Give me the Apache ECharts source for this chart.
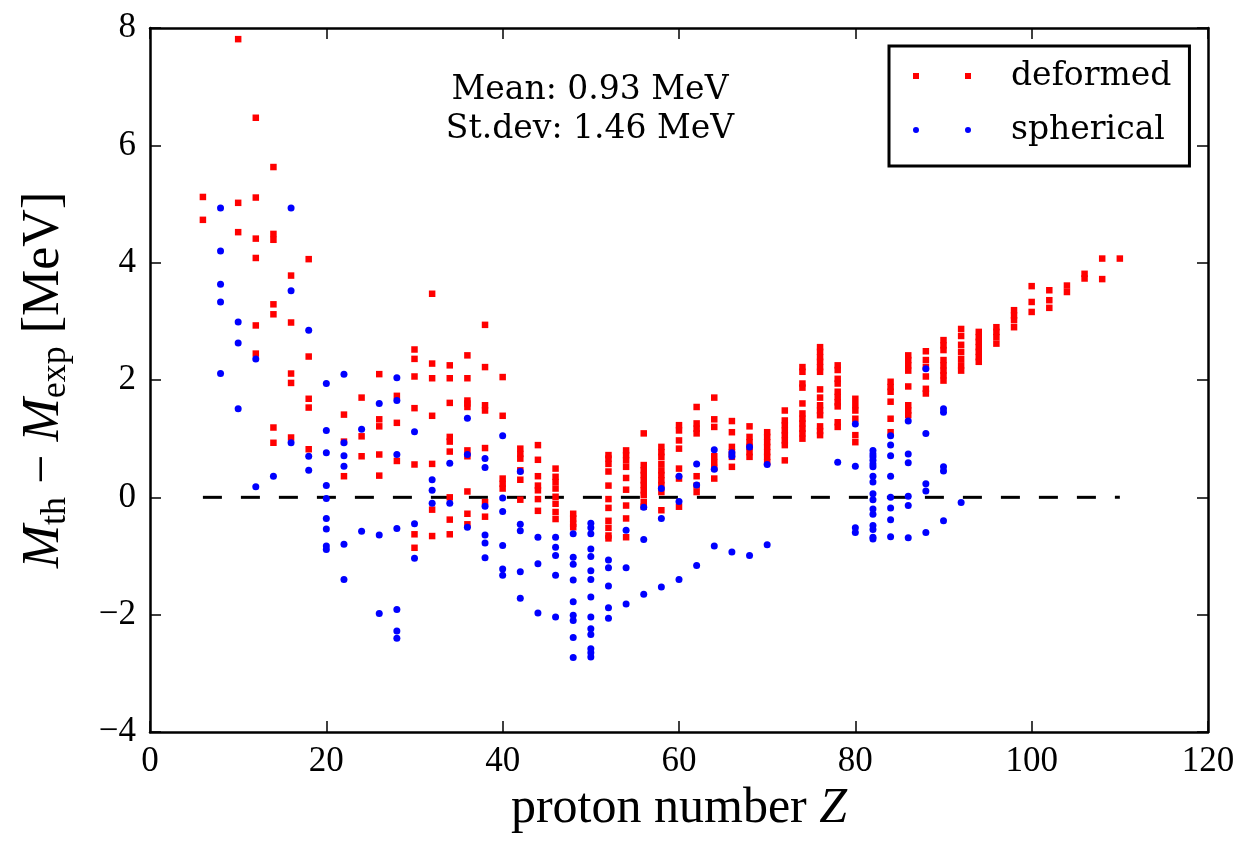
<!DOCTYPE html>
<html>
<head>
<meta charset="utf-8">
<script src="https://cdn.jsdelivr.net/npm/echarts@6/dist/echarts.min.js"></script>
<style>
  html, body { margin: 0; padding: 0; background: #fff; }
  #chart { width: 1241px; height: 842px; }
</style>
</head>
<body>
<div id="chart"></div>
<script>
// proton numbers and mass residuals (MeV), one list of values per Z
const deformedZ = [6, 10, 12, 14, 16, 18, 22, 24, 26, 28, 30, 32, 34, 36, 38, 40, 42, 44, 46, 48,
  52, 54, 56, 58, 60, 62, 64, 66, 68, 70, 72, 74, 76, 78, 80, 84, 86, 88, 90, 92,
  94, 96, 98, 100, 102, 104, 106, 108, 110]
const deformedVals = [
  [5.12, 4.73],
  [7.81, 5.02, 4.52],
  [6.47, 5.11, 4.41, 4.08, 2.93, 2.45],
  [5.63, 4.49, 4.39, 3.29, 3.12, 1.19, 0.93],
  [3.78, 2.98, 2.11, 1.95, 1.02],
  [4.06, 2.40, 1.68, 1.53, 0.82],
  [1.41, 0.95, 0.36],
  [1.70, 1.04, 0.70],
  [2.10, 1.33, 1.21, 0.73, 0.37],
  [1.73, 1.27, 0.62],
  [2.52, 2.36, 2.06, 1.52, 0.56, -0.63, -0.86],
  [3.47, 2.28, 2.03, 1.39, 0.57, -0.21, -0.66],
  [2.25, 2.03, 1.61, 1.03, 0.95, 0.78, 0.0, -0.38, -0.63],
  [2.42, 2.03, 1.65, 1.60, 1.54, 0.80, 0.70, 0.10, -0.28, -0.46],
  [2.94, 2.22, 1.57, 1.48, 0.84, -0.08, -0.33],
  [2.05, 1.39, 0.32, 0.23, 0.15],
  [0.83, 0.74, 0.66, 0.46, 0.30, -0.04],
  [0.89, 0.64, 0.36, 0.20, 0.12, -0.03, -0.23],
  [0.49, 0.35, 0.26, 0.15, 0.01, -0.11, -0.25, -0.37],
  [-0.28, -0.36, -0.45, -0.51],
  [0.72, 0.66, 0.57, 0.44, 0.20, -0.03, -0.18, -0.40, -0.52, -0.65, -0.70],
  [0.80, 0.72, 0.63, 0.52, 0.33, 0.13, -0.14, -0.36, -0.68],
  [1.09, 0.55, 0.46, 0.38, 0.29, 0.21, 0.12, 0.04, -0.08, -0.16],
  [0.86, 0.77, 0.69, 0.57, 0.46, 0.38, 0.29, 0.21, 0.09, -0.22],
  [1.23, 1.14, 0.97, 0.83, 0.49, 0.32, -0.16],
  [1.54, 1.26, 1.17, 1.09, 0.36, 0.20, 0.09],
  [1.70, 1.33, 1.20, 0.70, 0.60, 0.50, 0.32],
  [1.30, 1.11, 0.86, 0.77, 0.69, 0.52],
  [1.21, 1.03, 0.94, 0.86, 0.77, 0.69],
  [1.11, 1.03, 0.94, 0.86, 0.77, 0.69, 0.60],
  [1.48, 1.31, 1.23, 1.14, 1.06, 0.97, 0.89, 0.63],
  [2.22, 2.14, 1.94, 1.87, 1.60, 1.43, 1.34, 1.26, 1.17, 1.09, 1.00],
  [2.56, 2.48, 2.39, 2.31, 2.22, 2.14, 1.84, 1.70, 1.57, 1.48, 1.40, 1.21, 1.13, 1.06],
  [2.25, 2.17, 2.02, 1.94, 1.80, 1.71, 1.62, 1.55, 1.28, 1.20],
  [1.68, 1.57, 1.48, 1.34, 1.06, 0.94],
  [1.97, 1.88, 1.80, 1.63, 1.34, 1.11],
  [2.42, 2.34, 2.25, 2.16, 1.89, 1.57, 1.48, 1.40],
  [2.49, 2.34, 2.22, 2.06, 1.85, 1.77],
  [2.68, 2.59, 2.51, 2.34, 2.25, 2.16, 2.08, 1.99],
  [2.87, 2.75, 2.60, 2.48, 2.36, 2.25, 2.16],
  [2.82, 2.73, 2.65, 2.56, 2.48, 2.39, 2.31],
  [2.90, 2.82, 2.73, 2.62],
  [3.19, 3.10, 3.02, 2.90],
  [3.60, 3.33, 3.16],
  [3.53, 3.36, 3.23],
  [3.61, 3.50],
  [3.81, 3.73],
  [4.07, 3.72],
  [4.07]
]

const sphericalZ = [8, 10, 12, 14, 16, 18, 20, 22, 24, 26, 28, 30, 32, 34, 36, 38, 40, 42, 44, 46,
  48, 50, 52, 54, 56, 58, 60, 62, 64, 66, 68, 70, 78, 80, 82, 84, 86, 88, 90, 92]
const sphericalVals = [
  [4.93, 4.20, 3.63, 3.33, 2.11],
  [2.99, 2.63, 1.51],
  [2.36, 0.18],
  [0.36],
  [4.93, 3.52, 0.93],
  [2.85, 0.70, 0.46],
  [1.94, 1.14, 0.76, 0.20, -0.02, -0.36, -0.54, -0.83, -0.89],
  [2.10, 0.93, 0.71, 0.53, -0.80, -1.40],
  [1.16, -0.58],
  [1.60, -0.64, -1.98],
  [2.04, 1.65, 0.73, -0.53, -1.91, -2.28, -2.40],
  [1.12, -0.45, -1.04],
  [0.30, 0.12, -0.10],
  [0.58, -0.10],
  [1.35, 0.73, -0.51],
  [0.66, 0.51, -0.15, -0.64, -0.78, -1.03],
  [1.05, -0.01, -0.24, -0.82, -1.22, -1.33],
  [0.44, -0.46, -0.57, -1.27, -1.72],
  [-0.68, -1.13, -1.97],
  [-0.68, -0.85, -0.99, -1.33, -2.04],
  [-0.62, -1.02, -1.14, -1.41, -1.78, -2.01, -2.10, -2.39, -2.73],
  [-0.44, -0.52, -0.62, -0.88, -1.01, -1.25, -1.40, -1.70, -2.04, -2.24, -2.34, -2.58, -2.65, -2.72],
  [-1.07, -1.20, -1.51, -1.88, -2.06],
  [-0.56, -1.20, -1.82],
  [-0.17, -0.72, -1.65],
  [0.15, -0.36, -1.53],
  [0.36, -0.07, -1.40],
  [0.57, 0.21, -1.16],
  [0.81, 0.48, -0.83],
  [0.76, 0.70, -0.93],
  [0.86, -0.99],
  [0.56, -0.81],
  [0.60],
  [1.25, 0.53, -0.52, -0.60],
  [0.80, 0.74, 0.69, 0.63, 0.57, 0.52, 0.36, 0.26, 0.06, -0.04, -0.20, -0.29, -0.48, -0.55, -0.68, -0.71],
  [1.05, 0.89, 0.71, 0.36, 0.00, -0.18, -0.38, -0.67],
  [1.30, 0.74, 0.59, 0.02, -0.14, -0.69],
  [2.19, 1.09, 0.23, 0.11, -0.60],
  [1.51, 1.45, 0.52, 0.45, -0.40],
  [-0.09]
]

// zero reference line spans these Z
const zeroLineZ = [6, 110]

const xTicks = { min: 0, max: 120, step: 20 }
const yTicks = { min: -4, max: 8, step: 2 }

function pairs(zs, vals) {
  const out = []
  zs.forEach((z, i) => vals[i].forEach(v => out.push([z, v])))
  return out
}

const chart = echarts.init(document.getElementById('chart'))

const serif = 'Liberation Serif'
const tickFont = { fontFamily: serif, fontSize: 35, color: '#000' }
const frameAxis = (extra) => Object.assign({
  type: 'value',
  splitLine: { show: false },
  axisLine: { show: true, onZero: false, lineStyle: { color: '#000', width: 2.5 } },
  axisTick: { show: true, inside: true, length: 11, lineStyle: { color: '#000', width: 1.5 } }
}, extra)

const option = {
  animation: false,
  grid: { left: 150, right: 33, top: 28, bottom: 110 },
  xAxis: [
    frameAxis({
      min: xTicks.min, max: xTicks.max, interval: xTicks.step,
      position: 'bottom',
      axisLabel: Object.assign({ margin: 12 }, tickFont),
      name: '{n|proton number }{i|Z}',
      nameLocation: 'middle',
      nameGap: 52,
      nameTextStyle: {
        fontFamily: serif,
        rich: {
          n: { fontFamily: serif, fontSize: 50, color: '#000' },
          i: { fontFamily: serif, fontSize: 50, fontStyle: 'italic', color: '#000' }
        }
      }
    }),
    frameAxis({
      min: xTicks.min, max: xTicks.max, interval: xTicks.step,
      position: 'top',
      axisLabel: { show: false }
    })
  ],
  yAxis: [
    frameAxis({
      min: yTicks.min, max: yTicks.max, interval: yTicks.step,
      position: 'left',
      axisLabel: Object.assign({
        margin: 14,
        formatter: v => String(v).replace('-', '\u2212')
      }, tickFont),
      name: '{i|M}{s|th}{n| \u2212 }{i|M}{s|exp}{n| [MeV]}',
      nameLocation: 'middle',
      nameGap: 76,
      nameTextStyle: {
        fontFamily: serif,
        rich: {
          n: { fontFamily: serif, fontSize: 52, lineHeight: 60, color: '#000' },
          i: { fontFamily: serif, fontSize: 52, lineHeight: 60, fontStyle: 'italic', color: '#000' },
          s: { fontFamily: serif, fontSize: 36, lineHeight: 32, verticalAlign: 'bottom', color: '#000' }
        }
      }
    }),
    frameAxis({
      min: yTicks.min, max: yTicks.max, interval: yTicks.step,
      position: 'right',
      axisLabel: { show: false }
    })
  ],
  legend: {
    orient: 'vertical',
    left: 889,
    top: 46,
    padding: [10, 18, 16, 24],
    itemGap: 14,
    itemWidth: 58,
    itemHeight: 6,
    borderColor: '#000',
    borderWidth: 3,
    selectedMode: false,
    textStyle: {
      fontFamily: 'DejaVu Serif', fontSize: 33, color: '#000',
      lineHeight: 40, padding: [0, 0, 0, 35]
    },
    data: [
      { name: 'deformed', icon: 'path://M0,0h6v6h-6z M52,0h6v6h-6z' },
      { name: 'spherical', icon: 'path://M0,3a3,3 0 1,0 6,0a3,3 0 1,0 -6,0z M52,3a3,3 0 1,0 6,0a3,3 0 1,0 -6,0z' }
    ]
  },
  graphic: [{
    type: 'text',
    x: 590,
    y: 71,
    style: {
      text: 'Mean: 0.93 MeV\nSt.dev: 1.46 MeV',
      font: '33px "DejaVu Serif"',
      fill: '#000',
      textAlign: 'center',
      lineHeight: 39
    }
  }],
  series: [
    {
      name: 'zero',
      type: 'line',
      data: zeroLineZ.map(z => [z, 0]),
      symbol: 'none',
      lineStyle: { color: '#000', width: 3, type: [19, 19] },
      z: 1
    },
    {
      name: 'deformed',
      type: 'scatter',
      data: pairs(deformedZ, deformedVals),
      symbol: 'rect',
      symbolSize: 6.5,
      itemStyle: { color: '#ff0000', opacity: 1 },
      z: 2
    },
    {
      name: 'spherical',
      type: 'scatter',
      data: pairs(sphericalZ, sphericalVals),
      symbol: 'circle',
      symbolSize: 7,
      itemStyle: { color: '#0000ff', opacity: 1 },
      z: 3
    }
  ]
}

chart.setOption(option)
</script>
</body>
</html>
